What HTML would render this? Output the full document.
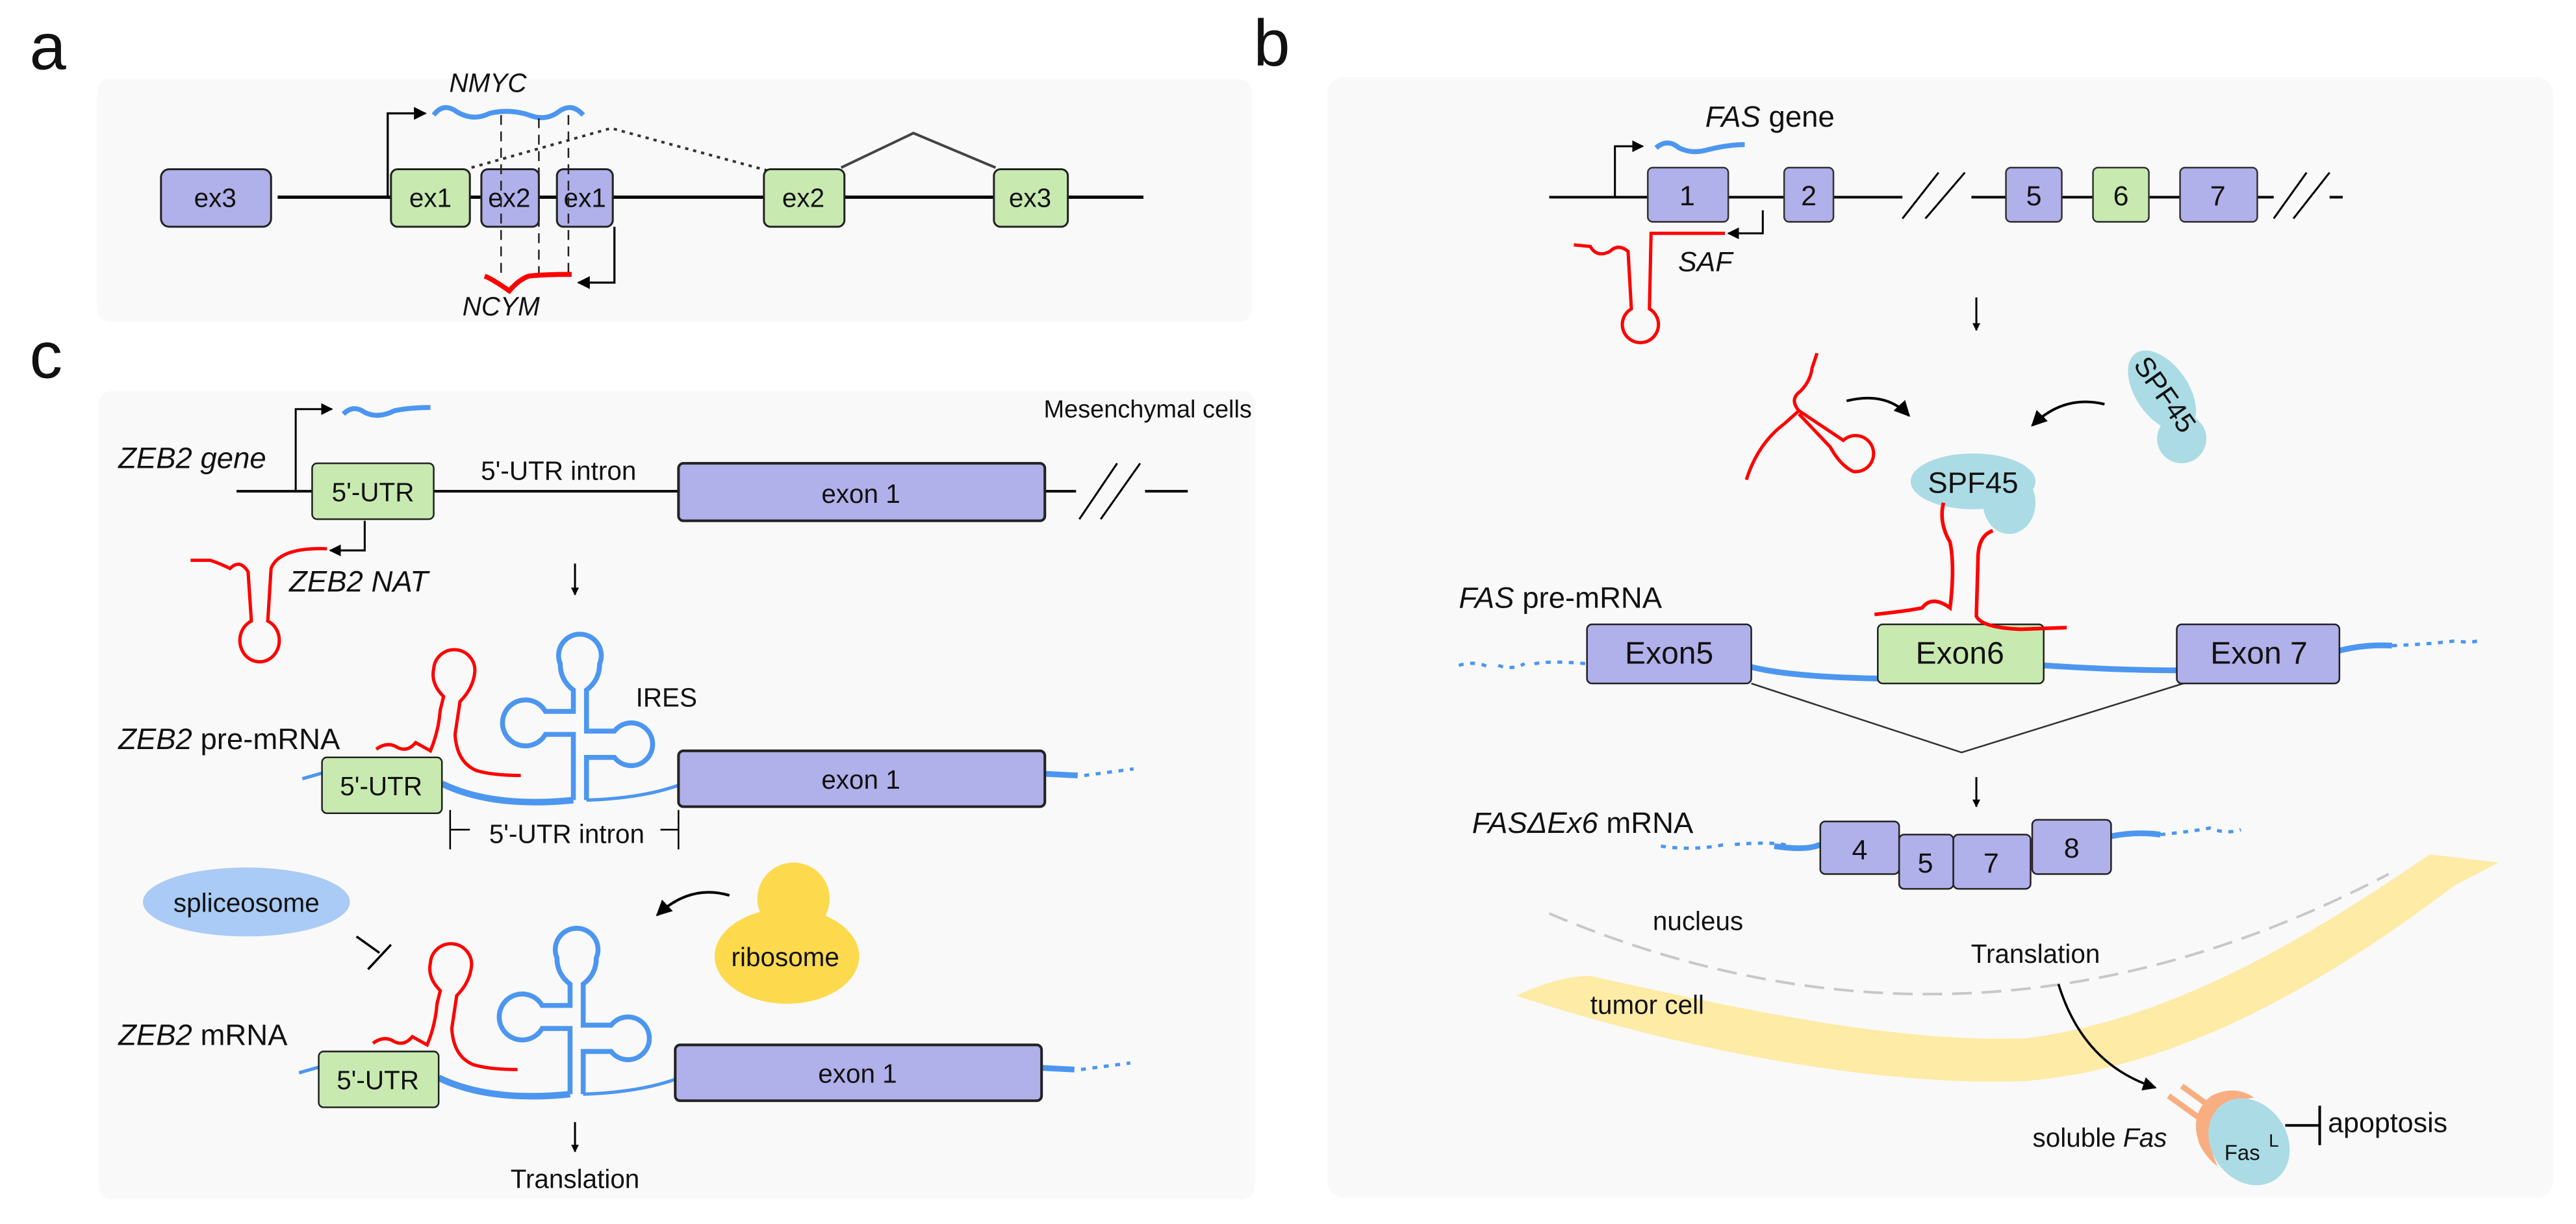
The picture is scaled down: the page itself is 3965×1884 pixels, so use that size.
<!DOCTYPE html>
<html><head><meta charset="utf-8"><style>
html,body{margin:0;padding:0;background:#fff;}
svg{display:block;}
text{font-family:"Liberation Sans",sans-serif;fill:#111;}
.it{font-style:italic;}
</style></head><body>
<svg width="3965" height="1884" viewBox="0 0 1568 745" xmlns="http://www.w3.org/2000/svg">
<defs>
<marker id="ah" viewBox="0 0 10 10" refX="9" refY="5" markerWidth="4" markerHeight="4" orient="auto"><path d="M0,0 L10,5 L0,10 Z" fill="#000"/></marker>
<marker id="ah2" viewBox="0 0 10 10" refX="9" refY="5" markerWidth="6" markerHeight="6" orient="auto"><path d="M0,0 L10,5 L0,10 Z" fill="#000"/></marker>
</defs>
<rect width="1568" height="745" fill="#fff"/>
<rect x="59" y="48" width="703" height="148" rx="8" fill="#f9f9f9"/>
<rect x="808" y="47" width="746" height="682" rx="10" fill="#f9f9f9"/>
<rect x="60" y="238" width="704" height="492" rx="8" fill="#f9f9f9"/>

<text x="18" y="42" font-size="40">a</text>
<text x="763" y="40" font-size="40">b</text>
<text x="18" y="230" font-size="40">c</text>

<!-- ===== Panel a ===== -->
<line x1="169" y1="120" x2="696" y2="120" stroke="#000" stroke-width="2"/>
<path d="M287,102 L372,78 L468,104" fill="none" stroke="#333" stroke-width="1.6" stroke-dasharray="2,3"/>
<path d="M512,102 L556,81 L606,102" fill="none" stroke="#444" stroke-width="1.6"/>
<g stroke="#222" stroke-width="1.2">
<rect x="98" y="103" width="67" height="35" rx="5" fill="#b0b0ea"/>
<rect x="238" y="103" width="48" height="35" rx="4" fill="#c8eab0"/>
<rect x="293" y="103" width="35" height="35" rx="4" fill="#b0b0ea"/>
<rect x="339" y="103" width="34" height="35" rx="4" fill="#b0b0ea"/>
<rect x="465" y="103" width="49" height="35" rx="4" fill="#c8eab0"/>
<rect x="605" y="103" width="45" height="35" rx="4" fill="#c8eab0"/>
</g>
<g font-size="16" text-anchor="middle">
<text x="131" y="126">ex3</text><text x="262" y="126">ex1</text><text x="310" y="126">ex2</text>
<text x="356" y="126">ex1</text><text x="489" y="126">ex2</text><text x="627" y="126">ex3</text>
</g>
<path d="M236,120 V69 H259" fill="none" stroke="#000" stroke-width="1.3" marker-end="url(#ah2)"/>
<path d="M264,70 Q270,62 278,68 Q288,74 298,69 Q310,66 322,70 Q332,74 340,68 Q348,62 355,70" fill="none" stroke="#4c96f0" stroke-width="3"/>
<text x="297" y="56" font-size="16" text-anchor="middle" class="it">NMYC</text>
<g stroke="#222" stroke-width="1" stroke-dasharray="6,4">
<line x1="305" y1="70" x2="305" y2="170"/><line x1="328" y1="72" x2="328" y2="170"/><line x1="346" y1="70" x2="346" y2="170"/>
</g>
<path d="M374,138 V172 H352" fill="none" stroke="#000" stroke-width="1.3" marker-end="url(#ah2)"/>
<path d="M295,168 Q300,170 310,177 Q316,170 322,168 Q332,167 348,167" fill="none" stroke="#f00" stroke-width="3"/>
<text x="305" y="192" font-size="16" text-anchor="middle" class="it">NCYM</text>

<!-- ===== Panel b ===== -->
<line x1="943" y1="120" x2="1426" y2="120" stroke="#000" stroke-width="1.6"/>
<rect x="1158" y="112" width="42" height="16" fill="#f9f9f9"/>
<rect x="1384" y="112" width="34" height="16" fill="#f9f9f9"/>
<g stroke="#000" stroke-width="1.2">
<line x1="1158" y1="133" x2="1180" y2="105"/><line x1="1172" y1="133" x2="1196" y2="105"/>
<line x1="1384" y1="133" x2="1404" y2="105"/><line x1="1396" y1="133" x2="1418" y2="105"/>
</g>
<g stroke="#333" stroke-width="1">
<rect x="1003" y="102" width="49" height="33" rx="3" fill="#b0b0ea"/>
<rect x="1086" y="102" width="30" height="33" rx="3" fill="#b0b0ea"/>
<rect x="1221" y="102" width="34" height="33" rx="3" fill="#b0b0ea"/>
<rect x="1274" y="102" width="34" height="33" rx="3" fill="#c8eab0"/>
<rect x="1327" y="102" width="47" height="33" rx="3" fill="#b0b0ea"/>
</g>
<g font-size="17" text-anchor="middle">
<text x="1027" y="125">1</text><text x="1101" y="125">2</text><text x="1238" y="125">5</text><text x="1291" y="125">6</text><text x="1350" y="125">7</text>
</g>
<path d="M983,120 V89 H1000" fill="none" stroke="#000" stroke-width="1.2" marker-end="url(#ah2)"/>
<path d="M1008,90 Q1015,84 1022,90 Q1030,94 1040,91 Q1052,88 1062,88" fill="none" stroke="#4c96f0" stroke-width="3"/>
<text x="1038" y="77" font-size="18"><tspan class="it">FAS</tspan> gene</text>
<path d="M1073,128 V142 H1052" fill="none" stroke="#000" stroke-width="1.2" marker-end="url(#ah2)"/>
<path d="M1050,142 H1005 L1004,188 A11,11 0 1 1 993,188 L991,153 Q985,148 980,153 Q972,157 968,150 L958,149" fill="none" stroke="#f00" stroke-width="2"/>
<text x="1038" y="165" font-size="17" text-anchor="middle" class="it">SAF</text>
<line x1="1203" y1="181" x2="1203" y2="201" stroke="#000" stroke-width="1.2" marker-end="url(#ah)"/>
<path d="M1063,292 Q1070,270 1086,258 L1095,250 Q1089,243 1096,238 Q1102,232 1103,224 L1106,215 M1095,250 L1122,268 A11,11 0 1 1 1128,287 Q1120,283 1114,272 L1095,252" fill="none" stroke="#f00" stroke-width="2"/>
<path d="M1124,244 Q1148,238 1162,253" fill="none" stroke="#000" stroke-width="1.6" marker-end="url(#ah2)"/>
<path d="M1281,246 Q1256,240 1237,259" fill="none" stroke="#000" stroke-width="1.6" marker-end="url(#ah2)"/>
<g transform="translate(1316,238) rotate(55)">
<ellipse cx="0" cy="0" rx="28" ry="16" fill="#abdce6"/>
</g>
<circle cx="1328" cy="267" r="15" fill="#abdce6"/>
<text x="1318" y="246" font-size="17" text-anchor="middle" transform="rotate(55 1318 240)">SPF45</text>
<ellipse cx="1201" cy="293" rx="38" ry="17" fill="#abdce6"/>
<ellipse cx="1223" cy="306" rx="16" ry="19" fill="#abdce6"/>
<text x="1201" y="300" font-size="18" text-anchor="middle">SPF45</text>
<text x="888" y="370" font-size="18"><tspan class="it">FAS</tspan> pre-mRNA</text>
<path d="M888,405 Q898,402 906,406 M912,405 Q920,408 928,404 M934,404 Q944,402 966,404" fill="none" stroke="#4c96f0" stroke-width="2" stroke-dasharray="3,4"/>
<path d="M1066,406 Q1090,412 1143,413" fill="none" stroke="#4c96f0" stroke-width="3.5"/>
<path d="M1244,405 Q1290,408 1325,408" fill="none" stroke="#4c96f0" stroke-width="3.5"/>
<path d="M1424,396 Q1440,392 1456,393" fill="none" stroke="#4c96f0" stroke-width="3.5"/>
<path d="M1456,393 Q1480,392 1495,390 Q1505,392 1511,389" fill="none" stroke="#4c96f0" stroke-width="2" stroke-dasharray="3,4"/>
<path d="M1066,416 L1194,458 L1329,416" fill="none" stroke="#333" stroke-width="1"/>
<g stroke="#222" stroke-width="1">
<rect x="966" y="380" width="100" height="36" rx="3" fill="#b0b0ea"/>
<rect x="1143" y="380" width="101" height="36" rx="3" fill="#c8eab0"/>
<rect x="1325" y="380" width="99" height="36" rx="3" fill="#b0b0ea"/>
</g>
<g font-size="19" text-anchor="middle">
<text x="1016" y="404">Exon5</text><text x="1193" y="404">Exon6</text><text x="1375" y="404">Exon 7</text>
</g>
<path d="M1183,306 Q1180,318 1187,330 Q1190,345 1187,370 Q1176,362 1170,370 Q1160,372 1141,374" fill="none" stroke="#f00" stroke-width="2.2"/>
<path d="M1213,323 Q1204,326 1204,340 L1203,375 Q1206,382 1230,383 L1258,382" fill="none" stroke="#f00" stroke-width="2.2"/>
<line x1="1203" y1="473" x2="1203" y2="491" stroke="#000" stroke-width="1.2" marker-end="url(#ah)"/>
<text x="896" y="507" font-size="18"><tspan class="it">FASΔEx6</tspan> mRNA</text>
<path d="M1011,515 Q1030,518 1050,514 M1056,514 Q1080,512 1090,515" fill="none" stroke="#4c96f0" stroke-width="2" stroke-dasharray="3,4"/>
<path d="M1080,515 Q1100,518 1108,514" fill="none" stroke="#4c96f0" stroke-width="3.5"/>
<path d="M1285,509 Q1300,506 1315,508" fill="none" stroke="#4c96f0" stroke-width="3.5"/>
<path d="M1315,508 Q1335,506 1345,504 Q1355,508 1364,505" fill="none" stroke="#4c96f0" stroke-width="2" stroke-dasharray="3,4"/>
<g stroke="#222" stroke-width="1">
<rect x="1108" y="500" width="48" height="32" rx="3" fill="#b0b0ea"/>
<rect x="1156" y="508" width="33" height="33" rx="3" fill="#b0b0ea"/>
<rect x="1189" y="508" width="47" height="33" rx="3" fill="#b0b0ea"/>
<rect x="1237" y="499" width="48" height="33" rx="3" fill="#b0b0ea"/>
</g>
<g font-size="17" text-anchor="middle">
<text x="1132" y="523">4</text><text x="1172" y="531">5</text><text x="1212" y="531">7</text><text x="1261" y="522">8</text>
</g>
<path d="M923,606 C940,598 955,594 968,594 C1050,612 1150,635 1233,632 C1330,620 1420,560 1479,520 L1521,525 L1494,539 C1420,595 1330,650 1233,658 C1130,662 1000,632 923,606 Z" fill="#fdeba6"/>
<path d="M943,556 Q1200,665 1454,532" fill="none" stroke="#c8c8c8" stroke-width="1.6" stroke-dasharray="12,6"/>
<text x="1006" y="566" font-size="16">nucleus</text>
<text x="968" y="617" font-size="16">tumor cell</text>
<text x="1239" y="586" font-size="16" text-anchor="middle">Translation</text>
<path d="M1253,599 Q1268,648 1312,662" fill="none" stroke="#000" stroke-width="1.4" marker-end="url(#ah2)"/>
<text x="1319" y="698" font-size="16" text-anchor="end">soluble <tspan class="it">Fas</tspan></text>
<g stroke="#f8ae80" stroke-width="3.5">
<line x1="1320" y1="667" x2="1338" y2="680"/><line x1="1328" y1="661" x2="1346" y2="674"/>
</g>
<path d="M1372,668 Q1360,660 1346,667 Q1332,678 1339,697 Q1344,706 1350,710 Q1340,690 1352,677 Q1360,670 1372,668 Z" fill="#f8ae80"/>
<ellipse cx="1369" cy="695" rx="23" ry="28" transform="rotate(-35 1369 695)" fill="#abdce6"/>
<text x="1354" y="706" font-size="13">Fas</text>
<text x="1381" y="698" font-size="11">L</text>
<line x1="1391" y1="685" x2="1412" y2="685" stroke="#000" stroke-width="1.6"/>
<line x1="1412" y1="673" x2="1412" y2="697" stroke="#000" stroke-width="1.6"/>
<text x="1417" y="689" font-size="17">apoptosis</text>

<!-- ===== Panel c ===== -->
<text x="762" y="254" font-size="15" text-anchor="end">Mesenchymal cells</text>
<text x="72" y="285" font-size="18" class="it">ZEB2 gene</text>
<line x1="144" y1="299" x2="723" y2="299" stroke="#000" stroke-width="1.6"/>
<rect x="655" y="292" width="42" height="14" fill="#f9f9f9"/>
<g stroke="#000" stroke-width="1.2"><line x1="657" y1="316" x2="680" y2="282"/><line x1="670" y1="316" x2="694" y2="282"/></g>
<g stroke="#222" stroke-width="1">
<rect x="190" y="282" width="74" height="34" rx="3" fill="#c8eab0"/>
<rect x="413" y="282" width="223" height="35" rx="3" fill="#b0b0ea" stroke-width="1.6"/>
</g>
<text x="227" y="305" font-size="16" text-anchor="middle">5'-UTR</text>
<text x="524" y="306" font-size="16" text-anchor="middle">exon 1</text>
<text x="340" y="292" font-size="16" text-anchor="middle">5'-UTR intron</text>
<path d="M180,299 V249 H202" fill="none" stroke="#000" stroke-width="1.2" marker-end="url(#ah2)"/>
<path d="M209,252 Q215,246 222,251 Q230,255 240,250 Q250,248 262,248" fill="none" stroke="#4c96f0" stroke-width="3"/>
<path d="M222,317 V335 H201" fill="none" stroke="#000" stroke-width="1.2" marker-end="url(#ah2)"/>
<path d="M199,334 Q170,333 165,346 L163,378 A12,13 0 1 1 153,378 L151,348 Q146,340 140,346 Q134,343 128,341 L116,341" fill="none" stroke="#f00" stroke-width="2"/>
<text x="176" y="360" font-size="18" class="it">ZEB2 NAT</text>
<line x1="350" y1="343" x2="350" y2="362" stroke="#000" stroke-width="1.2" marker-end="url(#ah)"/>

<g id="pre">
<path d="M184,474 L198,470" fill="none" stroke="#4c96f0" stroke-width="2"/>
<path d="M269,477 Q300,492 349,487" fill="none" stroke="#4c96f0" stroke-width="4"/>
<path d="M357,487 Q390,486 413,478" fill="none" stroke="#4c96f0" stroke-width="2"/>
<path d="M636,471 L656,472" fill="none" stroke="#4c96f0" stroke-width="3.5"/>
<path d="M660,472 L690,468" fill="none" stroke="#4c96f0" stroke-width="2" stroke-dasharray="3,4"/>
<path d="M349,487 V447 H332 A14,14 0 1 1 332,433 H349 V420 Q341,414 341,404 A13,13 0 1 1 365,404 Q365,414 357,420 V445 H374 A13,13 0 1 1 374,461 H357 V487" fill="none" stroke="#4c96f0" stroke-width="3"/>
<path d="M229,456 Q236,451 242,455 Q248,458 253,452 L262,457 Q267,445 268,432 L270,424 Q262,416 264,407 A12,12 0 1 1 289,409 Q288,419 280,427 L277,447 Q278,464 290,469 Q300,472 317,472" fill="none" stroke="#f00" stroke-width="2"/>
<rect x="196" y="461" width="73" height="34" rx="3" fill="#c8eab0" stroke="#222" stroke-width="1"/>
<rect x="413" y="457" width="223" height="34" rx="3" fill="#b0b0ea" stroke="#222" stroke-width="1.6"/>
<text x="232" y="484" font-size="16" text-anchor="middle">5'-UTR</text>
<text x="524" y="480" font-size="16" text-anchor="middle">exon 1</text>
</g>
<text x="387" y="430" font-size="16">IRES</text>
<text x="72" y="456" font-size="18"><tspan class="it">ZEB2</tspan> pre-mRNA</text>
<path d="M274,493 V517 M274,505 H286 M402,505 H413 M413,493 V517" fill="none" stroke="#000" stroke-width="1"/>
<text x="345" y="513" font-size="16" text-anchor="middle">5'-UTR intron</text>
<ellipse cx="150" cy="549" rx="63" ry="21" fill="#a9cbf5"/>
<text x="150" y="555" font-size="16" text-anchor="middle">spliceosome</text>
<path d="M217,570 L231,580 M224,590 L238,575" fill="none" stroke="#000" stroke-width="1.4"/>
<circle cx="483" cy="547" r="22" fill="#fdd94e"/>
<ellipse cx="479" cy="582" rx="44" ry="29" fill="#fdd94e"/>
<text x="478" y="588" font-size="16" text-anchor="middle">ribosome</text>
<path d="M444,545 Q420,538 400,557" fill="none" stroke="#000" stroke-width="1.6" marker-end="url(#ah2)"/>
<use href="#pre" transform="translate(-2,179)"/>
<text x="72" y="636" font-size="18"><tspan class="it">ZEB2</tspan> mRNA</text>
<line x1="350" y1="683" x2="350" y2="701" stroke="#000" stroke-width="1.2" marker-end="url(#ah)"/>
<text x="350" y="723" font-size="16" text-anchor="middle">Translation</text>
</svg>
</body></html>
